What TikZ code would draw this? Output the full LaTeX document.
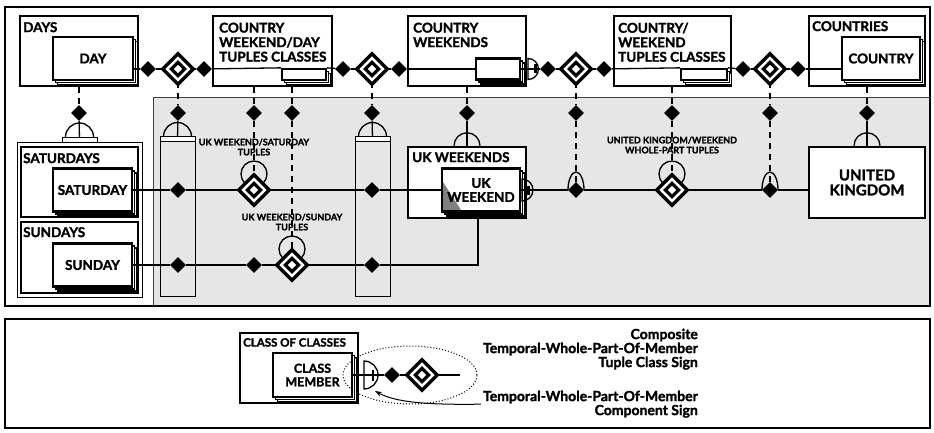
\documentclass[tikz,border=0pt]{standalone}
\usepackage{fontspec}
\setmainfont{Lato}[BoldFeatures={FakeBold=1.6}]
\usetikzlibrary{shapes.geometric,arrows.meta}
\definecolor{panel}{HTML}{E6E6E6}
\definecolor{panelrule}{HTML}{404040}
\definecolor{fold}{HTML}{808080}

\tikzset{
  boxtitle/.style={font=\fontsize{13.5}{14.5}\selectfont\bfseries, inner sep=0pt, anchor=north west, align=left},
  tuplelabel/.style={font=\fontsize{9}{10}\selectfont\bfseries, inner sep=0pt, align=center},
  signtext/.style={font=\fontsize{14}{14}\selectfont\bfseries, inner sep=0pt, align=right, anchor=north east},
  classbox/.style={draw, line width=2.5pt, fill=white, inner sep=0pt},
  stackline/.style={draw, fill=white, line width=1.1pt},
  memberbox/.style={draw, line width=2.3pt, fill=white, inner sep=0pt, align=center,
    font=\fontsize{13.5}{14}\selectfont\bfseries},
  hull/.style={draw, line width=1pt, inner sep=0pt},
  link/.style={line width=1.3pt},
  dlink/.style={line width=1.3pt, dash pattern=on 6pt off 5pt},
  knot/.style={diamond, aspect=1, fill=black, inner sep=0pt, minimum size=16pt},
  tuple/.style={diamond, aspect=1, inner sep=0pt, minimum size=23.3pt, fill=white,
    draw, line width=3.5pt, double=white, double distance=2.4pt},
  barmark/.style={line width=2.2pt},
}

% member box with two stacked copies behind it (lower right)
% [options]{name}{x}{y}{width}{height}{text}
\newcommand\StackBox[7][]{%
  \path[stackline] (#3-#5/2+4.5,#4-#6/2+4.5) rectangle (#3+#5/2+4.5,#4+#6/2+4.5);
  \path[stackline] (#3-#5/2+2.5,#4-#6/2+2.5) rectangle (#3+#5/2+2.5,#4+#6/2+2.5);
  \node[memberbox, minimum width=#5pt, minimum height=#6pt, #1] (#2) at (#3,#4) {#7};
}

\begin{document}
\begin{tikzpicture}[x=1pt,y=-1pt]
\useasboundingbox (0,0) rectangle (934,433);

% ---------- frames and shaded panel ----------
\fill[panel] (153,98) rectangle (930,306);
\draw[panelrule, line width=1pt] (153,306) -- (153,98) -- (930,98);
\draw[line width=1.4pt] (5,7) rectangle (930,306);
\draw[line width=1.4pt] (5,319) rectangle (930,428);

% ---------- rings and arches behind the diamonds ----------
\draw[link] (254,174) circle[radius=13pt];
\draw[link] (292,249) circle[radius=13pt];
\draw[link] (672,174) circle[radius=13pt];
\draw[link] (568,190) arc[start angle=180, end angle=0, x radius=8pt, y radius=18pt];
\draw[link] (762,190) arc[start angle=180, end angle=0, x radius=8pt, y radius=18pt];

% ---------- top row of classes ----------
\node[classbox, minimum width=118pt, minimum height=70pt] (days) at (79,51) {};
\StackBox{day}{93}{58.5}{80}{43}{DAY}
\node[boxtitle] (daysT) at (23,22) {DAYS};

\node[classbox, minimum width=119pt, minimum height=70pt] (cwd) at (272.5,51) {};
\node[boxtitle] (cwdT) at (219,22.5) {COUNTRY\\WEEKEND/DAY\\TUPLES CLASSES};
\StackBox{cwdi}{304}{74.5}{44}{11}{}

\node[classbox, minimum width=118pt, minimum height=70pt] (cw) at (467,51) {};
\node[boxtitle] (cwT) at (413,22.5) {COUNTRY\\WEEKENDS};
\StackBox{cwi}{498}{69}{44}{21}{}

\node[classbox, minimum width=117pt, minimum height=70pt] (cwk) at (672.5,51) {};
\node[boxtitle] (cwkT) at (618,22.5) {COUNTRY/\\WEEKEND\\TUPLES CLASSES};
\StackBox{cwki}{704}{74.5}{46}{11}{}

\node[classbox, minimum width=116pt, minimum height=70pt] (ctys) at (867,51) {};
\node[boxtitle] (ctysT) at (812,21) {COUNTRIES};
\StackBox{cty}{881}{58.5}{78}{43}{COUNTRY}

% diamonds of the top row
\node[knot] (k1) at (148,69) {};
\node[tuple] (t1) at (178,69) {};
\node[knot] (k2) at (204,69) {};
\node[knot] (k3) at (343,69) {};
\node[tuple] (t2) at (372,69) {};
\node[knot] (k4) at (399,69) {};
\node[knot] (k5) at (548,69) {};
\node[tuple] (t3) at (576,69) {};
\node[knot] (k6) at (604,69) {};
\node[knot] (k7) at (743,69) {};
\node[tuple] (t4) at (770,69) {};
\node[knot] (k8) at (798,69) {};

% ---------- left column: Saturdays and Sundays ----------
\node[hull, fill=white, minimum width=125pt, minimum height=154pt] (grp) at (79.5,220) {};
\node[hull, fill=white, minimum width=35pt, minimum height=5pt] (capDay) at (79.5,140) {};
\node[classbox, minimum width=117pt, minimum height=70pt] (sats) at (79.5,182) {};
\node[boxtitle] (satsT) at (23,153) {SATURDAYS};
\StackBox{sat}{92.5}{190}{79}{43}{SATURDAY}
\node[classbox, minimum width=117pt, minimum height=71pt] (suns) at (79.5,257.5) {};
\node[boxtitle] (sunsT) at (23,227) {SUNDAYS};
\StackBox{sun}{92.5}{265}{79}{43}{SUNDAY}

% ---------- shaded panel contents ----------
\node[hull, minimum width=35pt, minimum height=159pt] (barA) at (177.5,216.5) {};
\node[hull, fill=white, minimum width=35pt, minimum height=5pt] (capA) at (177.5,139.5) {};
\node[hull, minimum width=35pt, minimum height=159pt] (barD) at (372.5,216.5) {};
\node[hull, fill=white, minimum width=35pt, minimum height=5pt] (capD) at (372.5,139.5) {};

\node[knot] (kDay) at (79,113) {};
\node[knot] (kA) at (178,113) {};
\node[knot] (kB) at (254,113) {};
\node[knot] (kC) at (292,113) {};
\node[knot] (kD) at (372,113) {};
\node[knot] (kE) at (467,113) {};
\node[knot] (kF) at (576,113) {};
\node[knot] (kG) at (672,113) {};
\node[knot] (kH) at (770,113) {};
\node[knot] (kI) at (867,113) {};

\node[classbox, minimum width=118pt, minimum height=71pt] (ukws) at (467,182.5) {};
\node[boxtitle] (ukwsT) at (412,152) {UK WEEKENDS};
\StackBox[path picture={\fill[fold] (path picture bounding box.south west)
     -- ([yshift=31pt]path picture bounding box.south west)
     -- ([xshift=20pt]path picture bounding box.south west) -- cycle;}]
  {ukw}{481}{190}{78}{43}{UK\\WEEKEND}

\node[classbox, minimum width=116pt, minimum height=71pt,
  font=\fontsize{15}{15}\selectfont\bfseries, align=center] (ukd) at (867,182.5) {UNITED\\KINGDOM};

% Saturday row
\node[knot] (kA1) at (178,190) {};
\node[tuple] (tS) at (254,190) {};
\node[knot] (kD1) at (372,190) {};
\node[knot] (kF1) at (576,190) {};
\node[tuple] (tG) at (672,190) {};
\node[knot] (kH1) at (770,190) {};
% Sunday row
\node[knot] (kA2) at (178,265) {};
\node[knot] (kB2) at (254,265) {};
\node[tuple] (tU) at (292,265) {};
\node[knot] (kD2) at (372,265) {};

% ---------- connectors: top row ----------
\draw[link] (day.east |- k1) -- (k1);
\draw[link] (k1) -- (t1);
\draw[link] (t1) -- (k2);
\draw[link] (k2) -- (cwdi.north west);
\draw[link] (cwdi.north east) -- (k3);
\draw[link] (k3) -- (t2);
\draw[link] (t2) -- (k4);
\draw[link] (k4) -- (k4 -| cwi.west);
\draw[link] (cwi.east) -- (k5);
\draw[link] (k5) -- (t3);
\draw[link] (t3) -- (k6);
\draw[link] (k6) -- (cwki.north west);
\draw[link] (cwki.north east) -- (k7);
\draw[link] (k7) -- (t4);
\draw[link] (t4) -- (k8);
\draw[link] (k8) -- (k8 -| cty.west);

% ---------- connectors: down into the panel ----------
\draw[dlink] (days.south -| kDay) -- (kDay);
\draw[link] (kDay) -- (capDay);
\draw[dlink] (t1) -- (kA);
\draw[link] (kA) -- (capA);
\draw[dlink] (kB |- cwd.south) -- (kB);
\draw[dlink] (kB) -- (tS);
\draw[dlink] (kC |- cwd.south) -- (kC);
\draw[dlink] (kC) -- (tU);
\draw[dlink] (t2) -- (kD);
\draw[link] (kD) -- (capD);
\draw[dlink] (kE |- cw.south) -- (kE);
\draw[link] (kE) -- (ukws.north);
\draw[dlink] (t3) -- (kF);
\draw[dlink] (kF) -- (kF1);
\draw[dlink] (kG |- cwk.south) -- (kG);
\draw[dlink] (kG) -- (tG);
\draw[dlink] (t4) -- (kH);
\draw[dlink] (kH) -- (kH1);
\draw[dlink] (ctys.south) -- (kI);
\draw[link] (kI) -- (ukd.north);

% ---------- connectors: Saturday and Sunday rows ----------
\draw[link] (sat.east) -- (kA1);
\draw[link] (kA1) -- (tS);
\draw[link] (tS) -- (kD1);
\draw[link] (kD1) -- (ukw.west);
\draw[link] (ukw.east) -- (kF1);
\draw[link] (kF1) -- (tG);
\draw[link] (tG) -- (kH1);
\draw[link] (kH1) -- (kH1 -| ukd.west);
\draw[link] (sun.east) -- (kA2);
\draw[link] (kA2) -- (kB2);
\draw[link] (kB2) -- (tU);
\draw[link] (tU) -- (kD2);
\draw[link] (kD2) -| ([xshift=-3pt]ukw.south);

% ---------- subtype arcs ----------
\draw[link] ([xshift=-14pt]capDay.north) arc[start angle=180, end angle=0, radius=14pt];
\draw[link] ([xshift=-14pt]capA.north) arc[start angle=180, end angle=0, radius=14pt];
\draw[link] ([xshift=-14pt]capD.north) arc[start angle=180, end angle=0, radius=14pt];
\draw[link] ([xshift=-13pt]ukws.north) arc[start angle=180, end angle=0, radius=13pt];
\draw[link] ([xshift=-13pt]ukd.north) arc[start angle=180, end angle=0, radius=13pt];

% ---------- component signs ----------
\draw[link] (528,58.5) arc[start angle=90, end angle=-90, radius=10.5pt] -- cycle;
\draw[barmark] (cwi.east) -- (535.5,69) (535.5,64.5) -- (535.5,73.5);
\draw[link] (522,179) arc[start angle=90, end angle=-90, radius=11pt] -- cycle;
\draw[barmark] (ukw.east) -- (528.5,190) (528.5,185.5) -- (528.5,194.5);

% ---------- tuple labels ----------
\node[tuplelabel] (lbS) at (254,147) {UK WEEKEND/SATURDAY\\TUPLES};
\node[tuplelabel] (lbU) at (292,222) {UK WEEKEND/SUNDAY\\TUPLES};
\node[tuplelabel] (lbG) at (672,145) {UNITED KINGDOM/WEEKEND\\WHOLE-PART TUPLES};

% ---------- legend ----------
\node[classbox, minimum width=118pt, minimum height=70pt] (coc) at (299,368) {};
\node[boxtitle, font=\fontsize{11.5}{12}\selectfont\bfseries] (cocT) at (243,338) {CLASS OF CLASSES};
\StackBox[font=\fontsize{12.5}{13.5}\selectfont\bfseries]{cm}{312.5}{375}{79}{44}{CLASS\\MEMBER}
\node[knot] (kL) at (392,375) {};
\node[tuple] (tL) at (422,375) {};
\coordinate (lend) at (460,375);
\draw[link] (cm.east) -- (kL);
\draw[link] (kL) -- (tL);
\draw[link] (tL) -- (lend);
\draw[link] (364,361) arc[start angle=90, end angle=-90, radius=14pt] -- cycle;
\draw[barmark] (cm.east) -- (373,375) (373,369.5) -- (373,380.5);
\draw[line width=1pt, dotted] (410,375) ellipse[x radius=67pt, y radius=29pt];

\node[signtext] (lc1) at (698,328.5) {Composite\\Temporal-Whole-Part-Of-Member\\Tuple Class Sign};
\node[signtext] (lc2) at (698,390.5) {Temporal-Whole-Part-Of-Member\\Component Sign};
\coordinate (ctip) at (375,391);
\draw[line width=1pt, -{Stealth[length=7pt,width=5pt]}] ([xshift=-2pt]lc2.west)
  .. controls (425,405) and (395,402) .. (ctip);
\end{tikzpicture}
\end{document}
